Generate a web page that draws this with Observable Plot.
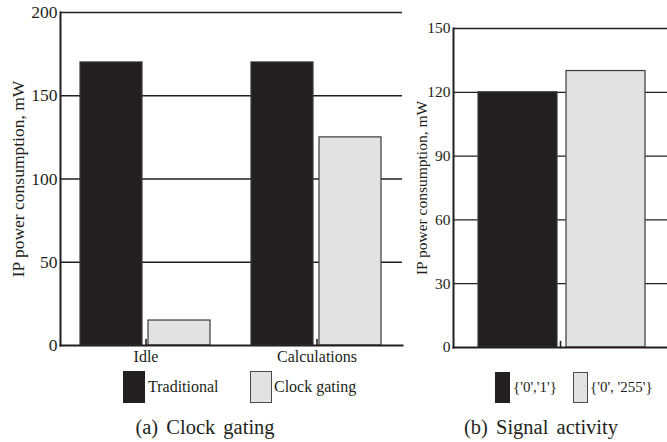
<!DOCTYPE html>
<html><head><meta charset="utf-8">
<script src="https://cdn.jsdelivr.net/npm/d3@7"></script>
<script src="https://cdn.jsdelivr.net/npm/@observablehq/plot@0.6"></script>
<style>
html,body{margin:0;padding:0;background:#fff;}
#root{position:relative;width:667px;height:442px;overflow:hidden;font-family:"Liberation Serif","Times New Roman",serif;color:#231f20;}
.sw{position:absolute;box-sizing:border-box;}
.lt{position:absolute;white-space:nowrap;}
.cap{position:absolute;text-align:center;white-space:nowrap;font-size:20.5px;line-height:20px;word-spacing:3px;}
</style></head><body><div id="root"></div>
<script>
// ---- data ----
const categoriesA = ["Idle", "Calculations"];
const seriesA = ["Traditional", "Clock gating"];
const traditionalA = [170, 170];
const clockGatingA = [15, 125];
const ticksA = [0, 50, 100, 150, 200];

const seriesB = ["{'0','1'}", "{'0', '255'}"];
const valuesB = [120, 130];
const ticksB = [0, 30, 60, 90, 120, 150];

const fills = ["#231f20", "#e1e2e4"];
const yLabel = "IP power consumption, mW";
const captionA = "(a) Clock gating";
const captionB = "(b) Signal activity";

// ---- build tables ----
const dataA = categoriesA.flatMap((c, i) => [
  {cat: c, series: seriesA[0], value: traditionalA[i]},
  {cat: c, series: seriesA[1], value: clockGatingA[i]}
]);
const dataB = seriesB.map((s, i) => ({series: s, value: valuesB[i]}));

const ink = "#231f20";
const tickShape = {draw(context, l) { context.moveTo(0, 0); context.lineTo(0, -l); }};
const font = "Liberation Serif, Times New Roman, serif";

const root = document.getElementById("root");

// ---- panel A ----
const plotA = Plot.plot({
  width: 402, height: 370,
  marginLeft: 60, marginRight: 0, marginTop: 12, marginBottom: 25,
  style: {fontFamily: font, color: ink, background: "transparent", overflow: "visible"},
  fx: {domain: categoriesA, paddingInner: 0, paddingOuter: 0, label: null},
  x: {domain: seriesA, paddingInner: 0.087, paddingOuter: 0.29, axis: null},
  y: {domain: [0, 200], label: null},
  color: {domain: seriesA, range: fills},
  marks: [
    Plot.gridY(ticksA.slice(1), {stroke: ink, strokeOpacity: 1, strokeWidth: 1.3}),
    Plot.barY(dataA, {fx: "cat", x: "series", y: "value", fill: "series", stroke: "#3a3a3a", strokeWidth: 1.2}),
    Plot.vector([0], {frameAnchor: "bottom", length: 6, anchor: "start", rotate: 0, shape: tickShape, stroke: ink, strokeWidth: 1.6}),
    Plot.frame({anchor: "left", facet: "super", stroke: ink, strokeWidth: 2}),
    Plot.frame({anchor: "bottom", facet: "super", stroke: ink, strokeWidth: 2}),
    Plot.axisY(ticksA, {anchor: "left", tickSize: 0, tickPadding: 3, fontSize: 17.5, label: yLabel, labelAnchor: "center", labelOffset: 49, labelArrow: "none"}),
    Plot.axisFx({anchor: "bottom", tickSize: 0, tickPadding: 5, fontSize: 16, label: null})
  ]
});
plotA.style.position = "absolute";
plotA.style.left = "0px";
plotA.style.top = "0px";
root.appendChild(plotA);

// ---- panel B ----
const plotB = Plot.plot({
  width: 265, height: 370,
  marginLeft: 51, marginRight: 0, marginTop: 28, marginBottom: 23,
  style: {fontFamily: font, color: ink, background: "transparent", overflow: "visible"},
  x: {domain: seriesB, paddingInner: 0.101, paddingOuter: 0.253, align: 0.54, axis: null},
  y: {domain: [0, 150], label: null},
  color: {domain: seriesB, range: fills},
  marks: [
    Plot.gridY(ticksB.slice(1), {stroke: ink, strokeOpacity: 1, strokeWidth: 1.3}),
    Plot.barY(dataB, {x: "series", y: "value", fill: "series", stroke: "#3a3a3a", strokeWidth: 1.2}),
    Plot.vector([0], {frameAnchor: "bottom", length: 6, anchor: "start", rotate: 0, shape: tickShape, stroke: ink, strokeWidth: 1.6}),
    Plot.frame({anchor: "left", stroke: ink, strokeWidth: 2}),
    Plot.frame({anchor: "bottom", stroke: ink, strokeWidth: 2}),
    Plot.axisY(ticksB, {anchor: "left", tickSize: 0, tickPadding: 3, fontSize: 15.5, label: yLabel, labelAnchor: "center", labelOffset: 38, labelArrow: "none"})
  ]
});
plotB.style.position = "absolute";
plotB.style.left = "402px";
plotB.style.top = "0px";
root.appendChild(plotB);

// ---- legends (HTML) ----
function legend(series, items, fontSize) {
  series.forEach((s, i) => {
    const it = items[i];
    const sw = document.createElement("div");
    sw.className = "sw";
    Object.assign(sw.style, {left: it.sx + "px", top: it.top + "px", width: it.w + "px", height: it.h + "px",
      background: fills[i], border: i === 1 ? "1.3px solid #4a4a4a" : "none"});
    root.appendChild(sw);
    const t = document.createElement("div");
    t.className = "lt";
    t.textContent = s;
    Object.assign(t.style, {left: it.tx + "px", top: it.top + "px", height: it.h + "px", lineHeight: it.h + "px", fontSize: fontSize + "px"});
    root.appendChild(t);
  });
}
legend(seriesA, [
  {sx: 123, tx: 148, top: 371, w: 22, h: 32},
  {sx: 250, tx: 274, top: 371, w: 22, h: 32}
], 16);
legend(seriesB, [
  {sx: 495, tx: 513, top: 372, w: 15, h: 31},
  {sx: 573, tx: 590, top: 372, w: 15, h: 31}
], 15);

// ---- captions ----
function caption(text, cx) {
  const c = document.createElement("div");
  c.className = "cap";
  c.textContent = text;
  Object.assign(c.style, {left: (cx - 150) + "px", width: "300px", top: "417px"});
  root.appendChild(c);
}
caption(captionA, 205);
caption(captionB, 541);
</script>
</body></html>
